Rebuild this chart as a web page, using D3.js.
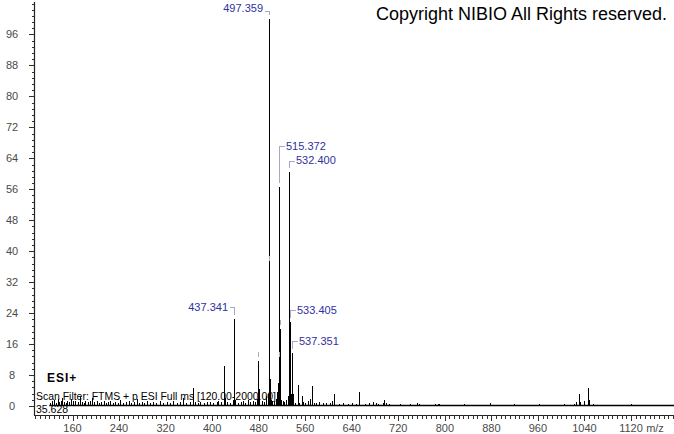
<!DOCTYPE html>
<html><head><meta charset="utf-8">
<script src="https://cdn.jsdelivr.net/npm/d3@7"></script>
<style>
html,body{margin:0;padding:0;background:#fff;}
svg{display:block;}
text{font-family:"Liberation Sans",Arial,sans-serif;}
</style></head>
<body><svg id="c" width="674" height="434"></svg>
<script>
// ---- data ----
const peakMz = [122.1,124.5,127.9,131.0,134.8,137.2,139.6,142.3,145.8,148.3,150.9,153.5,157.8,161.2,165.0,168.9,173.6,176.4,179.2,182.0,186.5,189.7,193.6,197.3,202.0,205.6,209.1,213.6,217.4,221.0,225.0,229.7,233.1,237.5,242.0,246.3,251.2,256.4,261.0,265.7,270.7,274.2,279.3,283.6,288.0,293.1,298.2,303.5,310.6,316.2,321.7,327.3,333.4,339.2,345.0,350.5,355.1,361.3,367.6,371.2,376.0,379.0,385.3,391.6,396.0,402.2,408.0,410.5,415.3,420.7,421.7,425.4,430.3,435.3,437.341,438.34,439.35,444.0,449.3,453.0,457.3,461.3,465.0,470.0,474.3,477.3,479.33,480.34,481.3,485.0,489.0,493.3,495.3,497.359,498.362,499.366,500.37,503.3,507.0,510.3,512.3,513.36,514.37,515.372,516.376,517.38,518.38,521.3,524.3,527.3,530.4,531.4,532.400,533.405,534.41,535.36,536.35,537.351,538.35,539.35,542.3,547.1,548.1,550.0,554.0,556.3,560.3,565.3,568.4,571.1,572.1,575.3,579.0,584.3,590.3,596.3,603.0,606.3,609.0,610.0,618.0,624.3,633.4,640.3,646.5,652.0,653.0,662.0,670.3,677.0,681.6,684.5,693.6,696.0,698.0,704.5,722.5,740.6,753.0,755.0,783.0,788.5,790.0,800.0,832.6,851.0,877.0,879.0,918.6,961.7,1004.0,1022.0,1025.6,1030.2,1032.0,1040.0,1045.7,1047.5,1054.4,1120.0];
const peakInt = [0.8,1.2,1.5,0.9,1.7,1.0,1.3,2.1,1.1,0.9,1.4,1.0,1.9,1.2,1.4,1.0,2.3,1.1,0.9,1.3,1.0,1.2,2.1,1.0,1.4,0.8,1.1,1.4,0.9,1.0,1.3,0.8,1.0,0.9,1.5,0.8,1.0,1.3,0.8,1.0,1.9,0.9,1.0,0.8,1.2,0.9,1.0,0.7,1.3,0.8,1.0,0.7,1.4,0.8,1.0,2.1,0.9,1.0,4.6,1.0,0.8,1.0,0.9,1.1,1.0,0.8,1.0,1.3,1.0,10.3,2.0,1.0,0.9,1.5,22.5,6.8,1.5,0.8,1.0,1.3,0.9,1.5,1.0,1.4,1.0,1.8,11.5,4.5,1.2,1.3,1.0,2.5,3.0,100,36.5,7.0,1.5,1.2,1.0,1.8,3.5,6.0,11.5,56.6,20.0,4.5,1.5,1.2,1.0,1.5,2.5,3.5,60.5,21.6,4.0,2.0,3.0,13.6,3.2,1.0,0.9,5.3,1.3,0.8,2.6,1.0,0.8,1.3,1.8,5.2,1.5,0.9,0.8,1.0,0.7,0.9,0.8,1.2,3.1,1.0,0.6,0.7,0.6,0.7,0.6,3.7,0.9,0.5,0.7,1.0,0.7,0.5,0.8,1.5,0.8,0.5,0.4,0.5,0.8,0.4,0.5,0.5,0.4,0.3,0.4,0.3,0.7,0.3,0.5,0.4,0.5,0.6,1.0,3.1,1.0,1.2,4.7,1.5,0.5,0.4];

const labelMz = [497.359, 515.372, 532.400, 437.341, 533.405, 537.351];
const labelText = ["497.359", "515.372", "532.400", "437.341", "533.405", "537.351"];
const markerMz = [498.362, 516.376, 479.33, 514.37];

const xTickValues = [160, 240, 320, 400, 480, 560, 640, 720, 800, 880, 960, 1040, 1120];
const yTickValues = [0, 8, 16, 24, 32, 40, 48, 56, 64, 72, 80, 88, 96];

const titleText = "Copyright NIBIO All Rights reserved.";
const modeText = "ESI+";
const filterText = "Scan Filter: FTMS + p ESI Full ms [120.00-2000.00]";
const rtText = "35.628";
const xAxisTitle = "m/z";
const scanRange = [120, 1193.9];

// ---- layout (pixels, not data) ----
const labelLayout = [
  {side: "left",  rise: 8,  textDy: -3.5},
  {side: "right", rise: 41, textDy: 0},
  {side: "right", rise: 11, textDy: -1},
  {side: "left",  rise: 12, textDy: 0},
  {side: "right", rise: 12, textDy: 0},
  {side: "right", rise: 12, textDy: 0}
];

const svg = d3.select("#c");
const x = d3.scaleLinear().domain([93.8, 1193.9]).range([34, 674]);
const y = d3.scaleLinear().domain([0, 100]).range([406, 19]);
const px = v => Math.round(x(v)) + 0.5;
const intensityOf = m => peakInt[peakMz.indexOf(m)];

// y axis
const yAxisX = 34;
const yMinor = d3.range(0, 104.01, 1.6);
svg.append("line").attr("x1", yAxisX + 0.5).attr("x2", yAxisX + 0.5)
  .attr("y1", 2).attr("y2", 415).attr("stroke", "#222").attr("stroke-width", 1.2);
svg.append("g").selectAll("line").data(yMinor).join("line")
  .attr("x1", yAxisX - 2.5).attr("x2", yAxisX)
  .attr("y1", d => Math.round(y(d)) + 0.5).attr("y2", d => Math.round(y(d)) + 0.5)
  .attr("stroke", "#333").attr("shape-rendering", "crispEdges");
svg.append("g").selectAll("line").data(yTickValues).join("line")
  .attr("x1", yAxisX - 5).attr("x2", yAxisX)
  .attr("y1", d => Math.round(y(d)) + 0.5).attr("y2", d => Math.round(y(d)) + 0.5)
  .attr("stroke", "#333").attr("shape-rendering", "crispEdges");
svg.append("g").selectAll("text").data(yTickValues).join("text")
  .attr("x", 12).attr("y", d => y(d)).attr("dy", "0.36em")
  .attr("text-anchor", "middle").attr("font-size", 11).attr("fill", "#4a4a4a")
  .text(d => d);

// x axis
const xAxisY = 415;
const xMinor = d3.range(96, 1193, 8);
svg.append("line").attr("x1", 34).attr("x2", 674)
  .attr("y1", xAxisY + 0.5).attr("y2", xAxisY + 0.5).attr("stroke", "#222").attr("stroke-width", 1.2);
svg.append("g").selectAll("line").data(xMinor).join("line")
  .attr("x1", d => px(d)).attr("x2", d => px(d))
  .attr("y1", xAxisY).attr("y2", xAxisY + 3.5)
  .attr("stroke", "#333").attr("shape-rendering", "crispEdges");
svg.append("g").selectAll("line").data(xTickValues).join("line")
  .attr("x1", d => px(d)).attr("x2", d => px(d))
  .attr("y1", xAxisY).attr("y2", xAxisY + 5.5)
  .attr("stroke", "#333").attr("shape-rendering", "crispEdges");
svg.append("g").selectAll("text").data(xTickValues).join("text")
  .attr("x", d => x(d)).attr("y", 432)
  .attr("text-anchor", "middle").attr("font-size", 11).attr("fill", "#4a4a4a")
  .text(d => d);
svg.append("text").attr("x", 655).attr("y", 432).attr("text-anchor", "middle")
  .attr("font-size", 11).attr("fill", "#4a4a4a").text(xAxisTitle);

// baseline of spectrum
svg.append("line").attr("x1", x(scanRange[0])).attr("x2", x(scanRange[1]))
  .attr("y1", y(0) - 0.5).attr("y2", y(0) - 0.5)
  .attr("stroke", "#000").attr("stroke-width", 1.6);

// peaks
svg.append("g").selectAll("line").data(peakMz).join("line")
  .attr("x1", d => px(d)).attr("x2", d => px(d))
  .attr("y1", y(0)).attr("y2", (d, i) => y(peakInt[i]))
  .attr("stroke", "#000").attr("stroke-width", 1).attr("shape-rendering", "crispEdges");

// unlabeled peak markers
svg.append("g").selectAll("line").data(markerMz).join("line")
  .attr("x1", d => px(d)).attr("x2", d => px(d))
  .attr("y1", d => y(intensityOf(d)) - 9).attr("y2", d => y(intensityOf(d)) - 4)
  .attr("stroke", "#a8a8c8").attr("stroke-width", 1).attr("shape-rendering", "crispEdges");

// labels
const lab = svg.append("g");
labelMz.forEach((m, i) => {
  const L = labelLayout[i];
  const top = y(intensityOf(m));
  const xx = px(m);
  const ly = Math.round(top - L.rise) + 0.5;
  const dir = L.side === "left" ? -1 : 1;
  const hx = xx + dir * 5;
  lab.append("path")
    .attr("d", `M${hx},${ly}H${xx}V${top - 4}`)
    .attr("fill", "none").attr("stroke", "#a8a8c8").attr("stroke-width", 1)
    .attr("shape-rendering", "crispEdges");
  lab.append("text")
    .attr("x", hx + dir * 1.5).attr("y", ly + L.textDy).attr("dy", "0.35em")
    .attr("text-anchor", L.side === "left" ? "end" : "start")
    .attr("font-size", 11).attr("fill", "#3030a0")
    .text(labelText[i]);
});

// texts
svg.append("text").attr("x", 376).attr("y", 19.5).attr("font-size", 17.5).attr("fill", "#000")
  .attr("textLength", 291).attr("lengthAdjust", "spacingAndGlyphs").text(titleText);
svg.append("text").attr("x", 47).attr("y", 382).attr("font-size", 12).attr("font-weight", "bold")
  .attr("letter-spacing", 1).attr("fill", "#000").text(modeText);
svg.append("text").attr("x", 36).attr("y", 400).attr("font-size", 10.5).attr("fill", "#000")
  .attr("textLength", 240).attr("lengthAdjust", "spacingAndGlyphs").text(filterText);
svg.append("text").attr("x", 36).attr("y", 413).attr("font-size", 10.5).attr("fill", "#000")
  .text(rtText);
</script></body></html>
